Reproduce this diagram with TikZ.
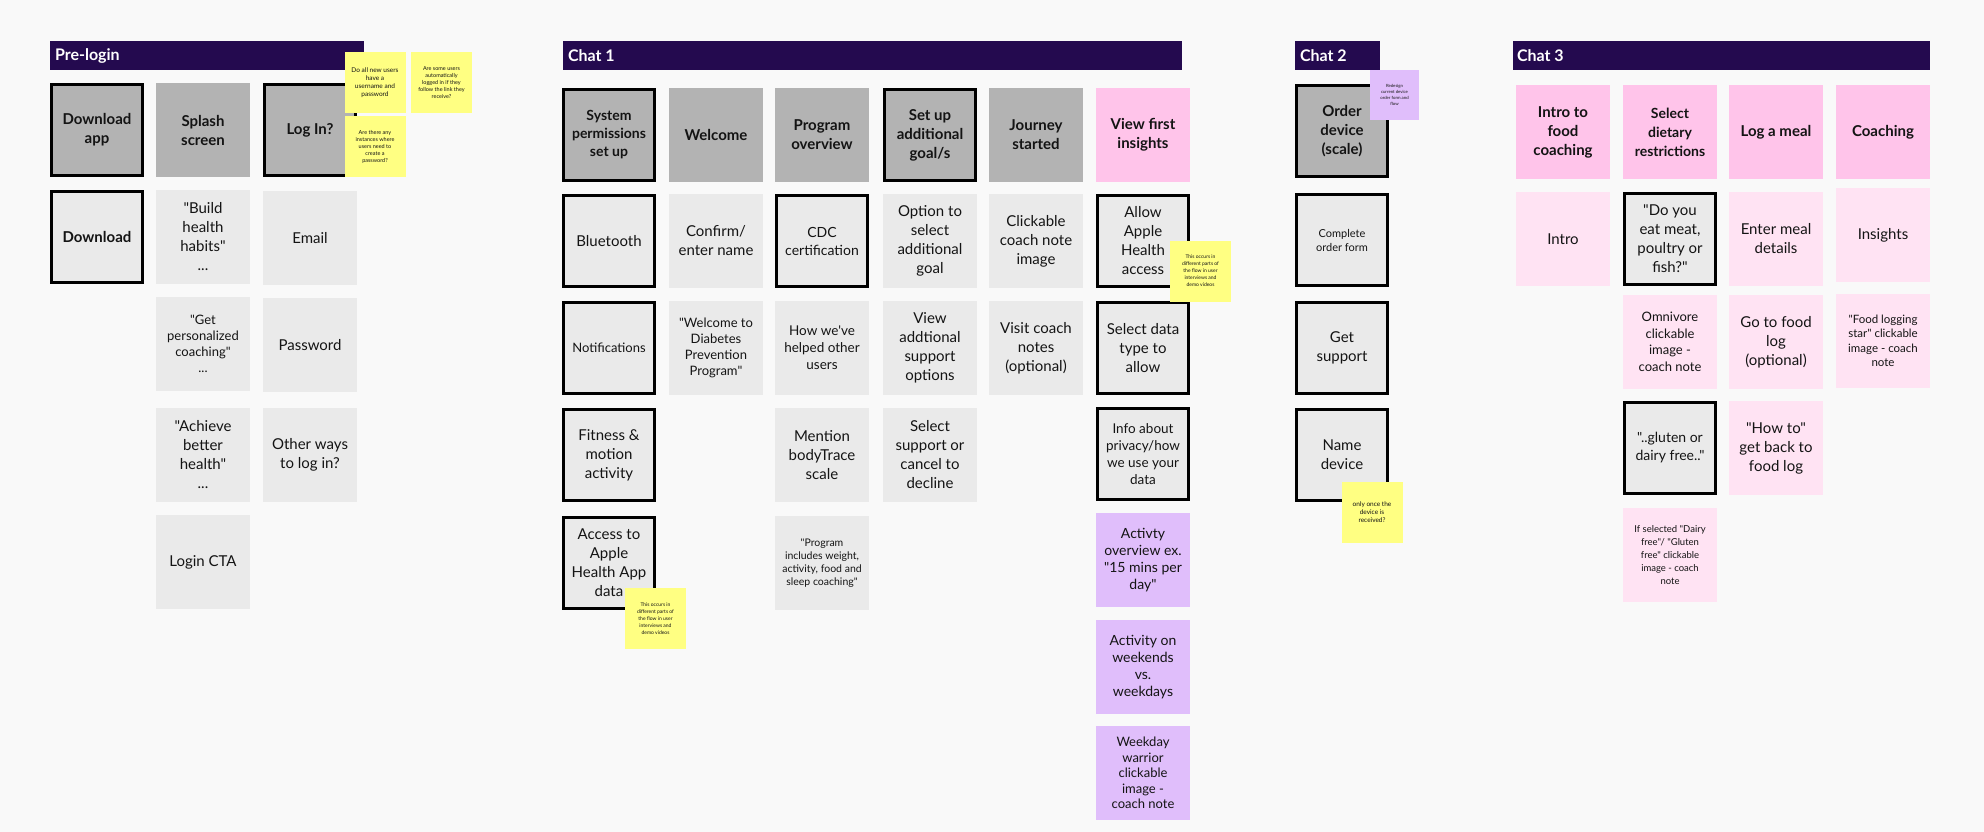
\documentclass[tikz,border=0pt]{standalone}
\usepackage{fontspec}
\setmainfont{Lato}[Ligatures=TeXOff]
\usepackage{tikz}

\definecolor{bg}{HTML}{F9F9F9}
\definecolor{barpurple}{HTML}{240A4F}
\definecolor{hdrgray}{HTML}{B3B3B3}
\definecolor{cardgray}{HTML}{EAEAEA}
\definecolor{pinkhdr}{HTML}{FFC4EA}
\definecolor{pinkcard}{HTML}{FFE3F3}
\definecolor{lilac}{HTML}{E0BEFB}
\definecolor{notey}{HTML}{FFFF82}
\definecolor{ink}{HTML}{141414}

\newcommand{\fsz}[2]{\fontsize{#1}{#2}\selectfont}

\begin{document}
\begin{tikzpicture}[x=1pt, y=-1pt,
  every node/.style={align=center, inner sep=0pt, outer sep=0pt, text=ink, font=\fsz{15}{19}},
  barlabel/.style={anchor=west, text=white, font=\fsz{16}{18}\bfseries},
  box/.style={minimum width=94pt, minimum height=94pt},
  boxb/.style={minimum width=91pt, minimum height=91pt, draw=black, line width=3pt},
  hdr/.style={box, fill=hdrgray, font=\fsz{15}{19}\bfseries},
  hdrb/.style={boxb, fill=hdrgray, font=\fsz{15}{19}\bfseries},
  card/.style={box, fill=cardgray},
  cardb/.style={boxb, fill=cardgray},
  pinkh/.style={box, fill=pinkhdr, font=\fsz{15}{19}\bfseries},
  pinkc/.style={box, fill=pinkcard},
  lil/.style={box, fill=lilac},
  sticky/.style={fill=notey, minimum width=61pt, minimum height=61pt, font=\fsz{5.5}{7}}]

  \fill[bg] (0,0) rectangle (1984,832);
  \useasboundingbox (0,0) rectangle (1984,832);

  % Section bars
  \fill[barpurple] (50,41) rectangle (364,70);
  \node[barlabel] (prelogin) at (55,56) {Pre-login};
  \fill[barpurple] (563,41) rectangle (1182,70);
  \node[barlabel] (chatone) at (568,56) {Chat 1};
  \fill[barpurple] (1295,41) rectangle (1380,70);
  \node[barlabel] (chattwo) at (1300,56) {Chat 2};
  \fill[barpurple] (1513,41) rectangle (1930,70);
  \node[barlabel] (chatthree) at (1517,56) {Chat 3};

  % Pre-login
  \node[hdrb] (dlapp) at (97,130) {Download\\app};
  \node[hdr] (splash) at (203,130) {Splash\\screen};
  \node[hdrb] (login) at (310,130) {Log In?};
  \node[cardb, font=\fsz{15}{19}\bfseries] (download) at (97,237) {Download};
  \node[card] (build) at (203,237) {"Build\\health\\habits"\\...};
  \node[card, font=\fsz{13}{16}] (personal) at (203,344) {"Get\\personalized\\coaching"\\...};
  \node[card] (achieve) at (203,455) {"Achieve\\better\\health"\\...};
  \node[card] (cta) at (203,562) {Login CTA};
  \node[card] (email) at (310,238) {Email};
  \node[card] (password) at (310,345) {Password};
  \node[card] (otherways) at (310,455) {Other ways\\to log in?};

  % Chat 1
  \node[hdrb, font=\fsz{14}{18}\bfseries] (perms) at (609,135) {System\\permissions\\set up};
  \node[hdr] (welcome) at (716,135) {Welcome};
  \node[hdr] (overview) at (822,135) {Program\\overview};
  \node[hdrb] (goals) at (930,135) {Set up\\additional\\goal/s};
  \node[hdr] (journey) at (1036,135) {Journey\\started};
  \node[pinkh] (insights) at (1143,135) {View first\\insights};

  \node[cardb] (bluetooth) at (609,241) {Bluetooth};
  \node[card] (name) at (716,241) {Confirm/\\enter name};
  \node[cardb, font=\fsz{14}{18}] (cdc) at (822,241) {CDC\\certification};
  \node[card] (option) at (930,241) {Option to\\select\\additional\\goal};
  \node[card] (clickable) at (1036,241) {Clickable\\coach note\\image};
  \node[cardb] (allow) at (1143,241) {Allow\\Apple\\Health\\access};

  \node[cardb, font=\fsz{13}{17}] (notif) at (609,348) {Notifications};
  \node[card, font=\fsz{13}{16}] (dpp) at (716,348) {"Welcome to\\Diabetes\\Prevention\\Program"};
  \node[card, font=\fsz{13.5}{17}] (helped) at (822,348) {How we've\\helped other\\users};
  \node[card] (viewsupport) at (930,348) {View\\addtional\\support\\options};
  \node[card] (visit) at (1036,348) {Visit coach\\notes\\(optional)};
  \node[cardb] (datatype) at (1143,348) {Select data\\type to\\allow};

  \node[cardb] (fitness) at (609,455) {Fitness \&\\motion\\activity};
  \node[card] (bodytrace) at (822,455) {Mention\\bodyTrace\\scale};
  \node[card] (selsupport) at (930,455) {Select\\support or\\cancel to\\decline};
  \node[cardb, font=\fsz{13.5}{17}] (privacy) at (1143,454) {Info about\\privacy/how\\we use your\\data};

  \node[cardb] (access) at (609,563) {Access to\\Apple\\Health App\\data};
  \node[card, font=\fsz{10.5}{13}] (includes) at (822,563) {"Program\\includes weight,\\activity, food and\\sleep coaching"};
  \node[lil, font=\fsz{14}{17}] (activity) at (1143,560) {Activty\\overview ex.\\"15 mins per\\day"};
  \node[lil, font=\fsz{14}{17}] (weekends) at (1143,667) {Activity on\\weekends\\vs.\\weekdays};
  \node[lil, font=\fsz{13}{15.5}] (warrior) at (1143,773) {Weekday\\warrior\\clickable\\image -\\coach note};

  % Chat 2
  \node[hdrb] (order) at (1342,131) {Order\\device\\(scale)};
  \node[cardb, font=\fsz{11}{14}] (orderform) at (1342,240) {Complete\\order form};
  \node[cardb] (getsupport) at (1342,348) {Get\\support};
  \node[cardb] (namedevice) at (1342,455) {Name\\device};

  % Chat 3
  \node[pinkh] (introfood) at (1563,132) {Intro to\\food\\coaching};
  \node[pinkh, font=\fsz{14}{19}\bfseries] (dietary) at (1670,132) {Select\\dietary\\restrictions};
  \node[pinkh] (logmeal) at (1776,132) {Log a meal};
  \node[pinkh] (coaching) at (1883,132) {Coaching};

  \node[pinkc] (intro) at (1563,239) {Intro};
  \node[cardb] (meat) at (1670,239) {"Do you\\eat meat,\\poultry or\\fish?"};
  \node[pinkc] (meal) at (1776,239) {Enter meal\\details};
  \node[pinkc] (coachinsights) at (1883,235) {Insights};

  \node[pinkc, font=\fsz{13}{16.5}] (omnivore) at (1670,342) {Omnivore\\clickable\\image -\\coach note};
  \node[pinkc] (foodlog) at (1776,342) {Go to food\\log\\(optional)};
  \node[pinkc, font=\fsz{11.5}{14.5}] (star) at (1883,341) {"Food logging\\star" clickable\\image - coach\\note};

  \node[cardb, font=\fsz{14}{18}] (gluten) at (1670,448) {"..gluten or\\dairy free.."};
  \node[pinkc] (howto) at (1776,448) {"How to"\\get back to\\food log};

  \node[pinkc, font=\fsz{9.5}{13}] (dairy) at (1670,555) {If selected "Dairy\\free"/ "Gluten\\free" clickable\\image - coach\\note};

  % Sticky notes
  \node[sticky, font=\fsz{6.5}{8}] (newusers) at (375,83) {Do all new users\\have a\\username and\\password};
  \node[sticky] (autolog) at (441.5,83) {Are some users\\automatically\\logged in if they\\follow the link they\\receive?};
  \node[sticky] (createpw) at (375,146.5) {Are there any\\instances where\\users need to\\create a\\password?};
  \node[sticky, font=\fsz{5}{7}] (occursa) at (655.5,618.5) {This occurs in\\different parts of\\the flow in user\\interviews and\\demo videos};
  \node[sticky, font=\fsz{5}{7}] (occursb) at (1200.5,271) {This occurs in\\different parts of\\the flow in user\\interviews and\\demo videos};
  \node[sticky, fill=lilac, minimum width=49pt, minimum height=50pt, font=\fsz{4.3}{6}] (redesign) at (1394.5,95) {Redesign\\current device\\order form and\\flow};
  \node[sticky, font=\fsz{6.5}{8}] (received) at (1372,512) {only once the\\device is\\received?};
\end{tikzpicture}
\end{document}
